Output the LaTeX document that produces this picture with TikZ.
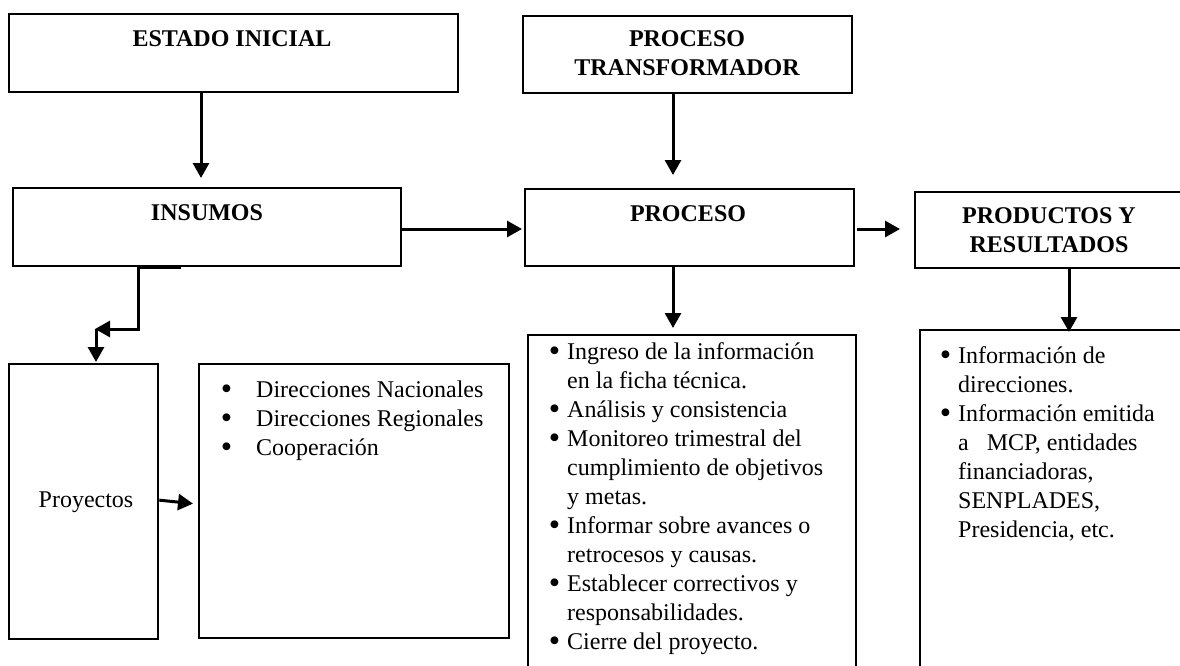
\documentclass[tikz,border=0pt]{standalone}
\usepackage{fontspec}
\setmainfont{Liberation Serif}
\usetikzlibrary{arrows.meta}
\newcommand{\bul}{\smash{\raisebox{-2.5pt}{\scalebox{1.35}{\textbullet}}}}
\begin{document}
\begin{tikzpicture}[x=1pt,y=-1pt,
  box/.style={draw, line width=2.3pt, rectangle, inner sep=0pt, anchor=north west},
  txt/.style={anchor=base, inner sep=0pt, font=\fontsize{24}{29}\selectfont},
  head/.style={anchor=base, inner sep=0pt, font=\fontsize{24}{29}\selectfont\bfseries},
  arr/.style={line width=3pt, -{Triangle[length=15pt,width=16pt]}}]
\useasboundingbox (0,0) rectangle (1180,666);
\clip (0,0) rectangle (1180,666);
% boxes
\node[box, minimum width=449pt, minimum height=78pt] (estado) at (8,13) {};
\node[box, minimum width=388pt, minimum height=78pt] (insumos) at (12,187) {};
\node[box, minimum width=329pt, minimum height=77pt] (ptrans) at (522,15) {};
\node[box, minimum width=329pt, minimum height=77pt] (proceso) at (524,188) {};
\node[box, minimum width=272pt, minimum height=76pt] (productos) at (914,191) {};
\node[box, minimum width=149pt, minimum height=275pt] (proyectos) at (8,363) {};
\node[box, minimum width=310pt, minimum height=274pt] (direcciones) at (198,363) {};
\node[box, minimum width=328pt, minimum height=360pt] (actividades) at (527,334) {};
\node[box, minimum width=272pt, minimum height=360pt] (resultados) at (919,329) {};
% texts
\node[head] (estadoT) at (232,47) {ESTADO INICIAL};
\node[head] (insumosT) at (207,220) {INSUMOS};
\node[head] (ptransT) at (687,47) {\begin{tabular}[t]{@{}c@{}}PROCESO\\TRANSFORMADOR\end{tabular}};
\node[head] (procesoT) at (688,221) {PROCESO};
\node[head] (productosT) at (1049,223) {\begin{tabular}[t]{@{}c@{}}PRODUCTOS Y\\RESULTADOS\end{tabular}};
\node[txt] (proyectosT) at (86,507) {Proyectos};
\node[txt, anchor=base west] (direccionesT) at (256,397) {\begin{tabular}[t]{@{}l@{}}
\llap{\bul\hspace{24pt}}Direcciones Nacionales\\
\llap{\bul\hspace{24pt}}Direcciones Regionales\\
\llap{\bul\hspace{24pt}}Cooperación
\end{tabular}};
\node[txt, anchor=base west] (actividadesT) at (567,359) {\begin{tabular}[t]{@{}l@{}}
\llap{\bul\hspace{7pt}}Ingreso de la información\\
en la ficha técnica.\\
\llap{\bul\hspace{7pt}}Análisis y consistencia\\
\llap{\bul\hspace{7pt}}Monitoreo trimestral del\\
cumplimiento de objetivos\\
y metas.\\
\llap{\bul\hspace{7pt}}Informar sobre avances o\\
retrocesos y causas.\\
\llap{\bul\hspace{7pt}}Establecer correctivos y\\
responsabilidades.\\
\llap{\bul\hspace{7pt}}Cierre del proyecto.
\end{tabular}};
\node[txt, anchor=base west] (resultadosT) at (958,363) {\begin{tabular}[t]{@{}l@{}}
\llap{\bul\hspace{7pt}}Información de\\
direcciones.\\
\llap{\bul\hspace{7pt}}Información emitida\\
a\hspace{18pt}MCP, entidades\\
financiadoras,\\
SENPLADES,\\
Presidencia, etc.
\end{tabular}};
% column / row helpers
\coordinate (xa) at (201,0);
\coordinate (xb) at (673,0);
\coordinate (xc) at (1069,0);
\coordinate (yr) at (0,229);
\coordinate (stubR) at (181,267);
\coordinate (stubL) at (138,267);
\coordinate (bend) at (96,329);
% connectors
\draw[arr, shorten >=9pt] (estado.south -| xa) -- (insumos.north -| xa);
\draw[arr, shorten >=13pt] (ptrans.south -| xb) -- (proceso.north -| xb);
\draw[arr, shorten >=6pt] (proceso.south -| xb) -- (actividades.north -| xb);
\draw[arr, shorten >=-3pt] (productos.south -| xc) -- (resultados.north -| xc);
\draw[arr, shorten >=2pt] (insumos.east |- yr) -- (proceso.west |- yr);
\draw[arr, shorten <=2pt, shorten >=14pt] (proceso.east |- yr) -- (productos.west |- yr);
\draw[arr] (stubR) -- (stubL) -- (stubL |- bend) -- ([xshift=-1pt]bend);
\draw[arr, shorten >=1pt] (bend) -- (proyectos.north -| bend);
\draw[arr, shorten >=5pt] ([yshift=1.5pt]proyectos.east) -- ([yshift=-3pt]direcciones.west);
\end{tikzpicture}
\end{document}
